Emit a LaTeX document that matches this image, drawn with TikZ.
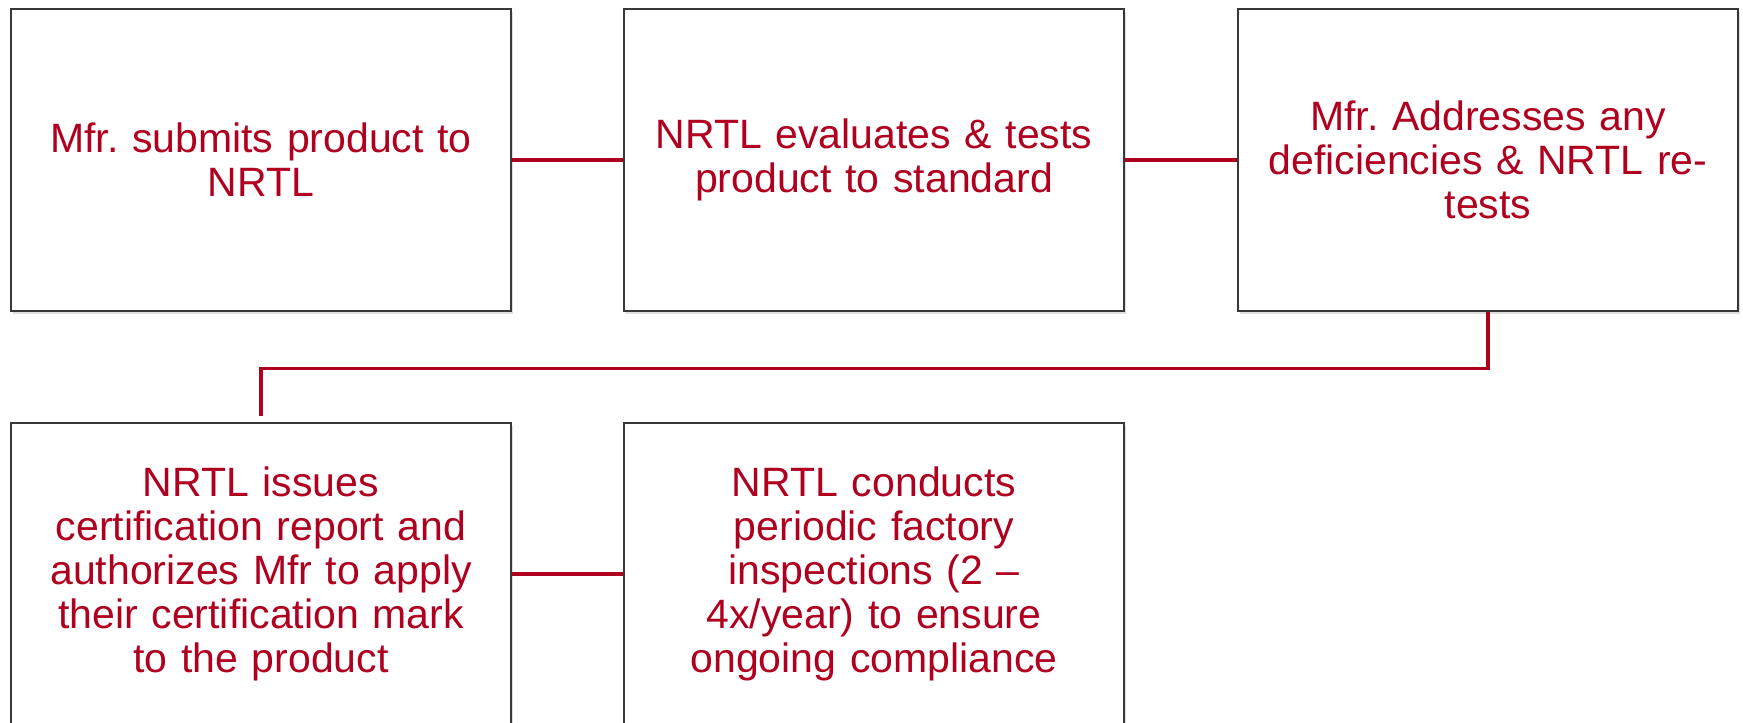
\documentclass[tikz,border=0pt]{standalone}
\usepackage{fontspec}
\setmainfont{Liberation Sans}
\usepackage{xcolor}
\usepackage{tikz}
\usetikzlibrary{positioning, shadows}

\definecolor{nrtlred}{RGB}{176,0,32}
\definecolor{boxline}{RGB}{56,56,56}

\begin{document}
\frenchspacing
\begin{tikzpicture}[
  x=0.5pt, y=0.5pt,
  every node/.style={font=\fontsize{20.5}{22}\selectfont},
  stepbox/.style={
    rectangle, draw=boxline, fill=white, line width=1.3pt,
    minimum width=250pt, minimum height=151pt,
    text width=235pt, align=center, text=nrtlred,
    drop shadow={shadow xshift=1pt, shadow yshift=-1.5pt, opacity=0.25}},
  link/.style={draw=nrtlred, line width=#1},
  link/.default=2.2pt
]
\useasboundingbox (0,0) rectangle (1743,-722);

%% ── TOP ROW ──────────────────────────────────────────────
\node[stepbox] (submit) at (261,-160)  {Mfr. submits product to\\NRTL};
\node[stepbox] (evalt)  at (874,-160)  {NRTL evaluates \& tests\\product to standard};
\node[stepbox] (retest) at (1488,-160) {Mfr. Addresses any\\deficiencies \& NRTL re-\\tests};

%% Top-row links
\draw[link] (submit) -- (evalt);
\draw[link] (evalt)  -- (retest);

%% ── BOTTOM ROW ───────────────────────────────────────────
\node[stepbox] (issue)   at (261,-574)
                         {NRTL issues\\certification report and\\authorizes Mfr to apply\\their certification mark\\to the product};
\node[stepbox] (inspect) at (874,-574)
                         {NRTL conducts\\periodic factory\\inspections (2 –\\4x/year) to ensure\\ongoing compliance};

%% Re-test comes down and across to issue
\draw[link=1.7pt, shorten >=3pt] (retest.south) -- ++(0,-56) -| (issue.north);

%% Bottom-row link
\draw[link] (issue) -- (inspect);

\end{tikzpicture}
\end{document}
